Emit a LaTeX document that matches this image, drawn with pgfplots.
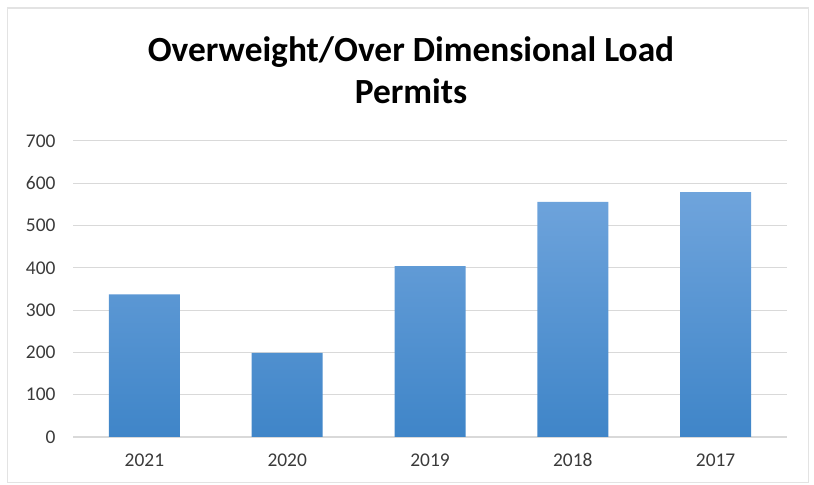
\documentclass[border=0pt]{standalone}
\usepackage{fontspec}
\setmainfont{Carlito}
\usepackage{pgfplots}
\pgfplotsset{compat=1.18}
\definecolor{gridc}{HTML}{D9D9D9}
\definecolor{bordc}{HTML}{E3E3E3}
\definecolor{ticktxt}{HTML}{3A3A3A}
\definecolor{barTop}{HTML}{6FA4DC}
\definecolor{barBot}{HTML}{3F85C8}
\begin{document}
\begin{tikzpicture}[x=1bp,y=1bp]
\path[use as bounding box] (0,0) rectangle (814,485);
\draw[bordc, line width=1.2bp] (7.5,2.5) rectangle (808.5,477);
\node[font=\bfseries\fontsize{35.5}{40}\selectfont, anchor=base, inner sep=0pt] at (411,423) {Overweight/Over Dimensional Load};
\node[font=\bfseries\fontsize{35.5}{40}\selectfont, anchor=base, inner sep=0pt] at (411,381) {Permits};
\begin{axis}[
  at={(73bp,48bp)}, anchor=south west,
  scale only axis, width=714bp, height=296bp,
  ymin=0, ymax=700, xmin=-0.5, xmax=4.5,
  ytick={0,100,...,700},
  xtick=data, xticklabels={2021,2020,2019,2018,2017},
  ymajorgrids, grid style={gridc, line width=1bp},
  axis x line*=bottom, axis y line*=left,
  y axis line style={draw=none},
  x axis line style={gridc, line width=1.2bp, -},
  major tick length=0pt,
  tick label style={color=ticktxt, font=\fontsize{19.5}{21}\selectfont},
  /pgf/number format/assume math mode=true,
  yticklabel style={xshift=-14bp},
  xticklabel style={yshift=-13bp},
  ybar, bar width=71bp,
]
\addplot[draw=none, top color=barTop, bottom color=barBot] coordinates {(0,337) (1,199) (2,404) (3,556) (4,579)};
\end{axis}
\end{tikzpicture}
\end{document}
